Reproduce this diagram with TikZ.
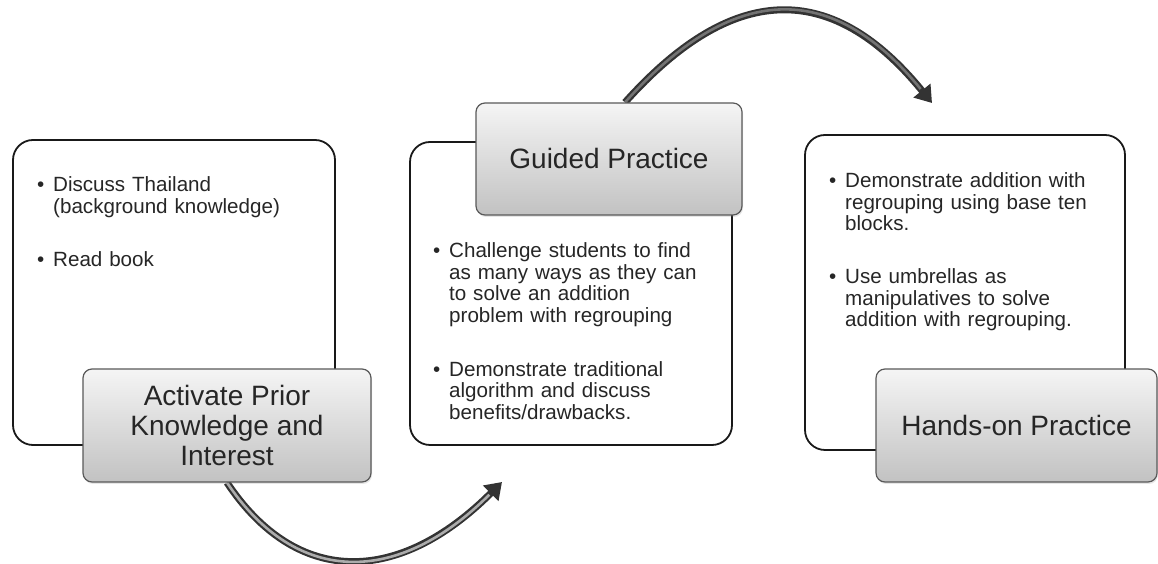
\documentclass[tikz,border=0pt]{standalone}
\usepackage{fontspec}
\setmainfont{Liberation Sans}
\usetikzlibrary{arrows.meta,shadows,backgrounds}

% one bullet point with a hanging indent
\newcommand{\bitem}[1]{\par\hangindent=16pt\hangafter=1\noindent\makebox[16pt][l]{\textbullet}#1\par}

\tikzset{
  panel/.style={draw=black!90, line width=1.8pt, rounded corners=20pt, fill=white,
    minimum width=322pt, minimum height=305pt},
  tag/.style={draw=black!65, line width=1.2pt, rounded corners=9pt,
    top color=gray!8, bottom color=gray!48, align=center, text=black!85,
    font=\fontsize{28}{30}\selectfont,
    drop shadow={shadow xshift=1pt, shadow yshift=-2pt, opacity=0.2}},
  itemtext/.style={anchor=north west, inner sep=0pt, text width=290pt, align=left,
    font=\fontsize{20.6}{21.7}\selectfont, text=black!85},
  flowarrow/.style={draw=black!80, line width=7pt, -{Triangle[width=21pt,length=16pt]}},
  flowcore/.style={draw=gray!65, line width=2.6pt, shorten >=18pt}
}

\begin{document}
\begin{tikzpicture}[x=1pt,y=1pt]
  \useasboundingbox (0,0) rectangle (1158,564);
  % the three white panels
  \node[panel] (actbox) at (174,271.5) {};
  \node[panel, minimum height=303pt] (guidebox) at (571,270.5) {};
  \node[panel, minimum width=320pt, minimum height=315pt] (handsbox) at (965,271.5) {};
  % bullet points
  \node[itemtext] (acttxt) at (37,394.5) {\bitem{Discuss Thailand\newline(background knowledge)}\vspace{32pt}\bitem{Read book}};
  \node[itemtext] (guidetxt) at (433,328.4) {\bitem{Challenge students to find\newline as many ways as they can\newline to solve an addition\newline problem with regrouping}\vspace{32pt}\bitem{Demonstrate traditional\newline algorithm and discuss\newline benefits/drawbacks.}};
  \node[itemtext] (handstxt) at (829,398.5) {\bitem{Demonstrate addition with\newline regrouping using base ten\newline blocks.}\vspace{31pt}\bitem{Use umbrellas as\newline manipulatives to solve\newline addition with regrouping.}};
  % grey labels
  \node[tag, minimum width=288pt, minimum height=113pt] (actlabel) at (227,138.5) {Activate Prior\\Knowledge and\\Interest};
  \node[tag, minimum width=266pt, minimum height=112pt] (guidelabel) at (609,405) {Guided Practice};
  \node[tag, minimum width=281pt, minimum height=113pt] (handslabel) at (1016.5,138.5) {Hands-on Practice};
  % curved arrows from step to step
  \coordinate (guidein) at (502,82);
  \coordinate (handsin) at (932,461);
  \begin{scope}[on background layer]
    \draw[flowarrow] (actlabel.south) .. controls +(70,-105) and +(-103,-103) .. (guidein);
    \draw[flowcore] (actlabel.south) .. controls +(70,-105) and +(-103,-103) .. (guidein);
    \draw[flowarrow] ([xshift=16pt]guidelabel.north) .. controls +(85,95) and +(-118,145) .. (handsin);
    \draw[flowcore, draw=black!55] ([xshift=16pt]guidelabel.north) .. controls +(85,95) and +(-118,145) .. (handsin);
  \end{scope}
\end{tikzpicture}
\end{document}
